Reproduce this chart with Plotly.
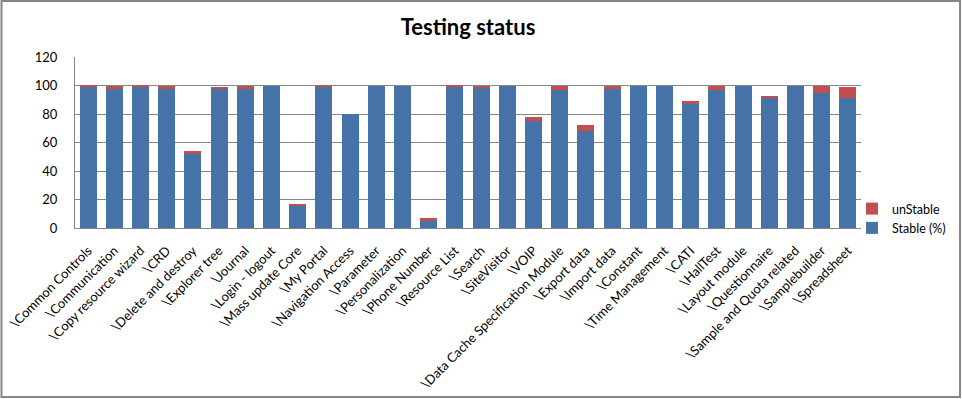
import plotly.graph_objects as go

categories = [
    "\\Common Controls", "\\Communication", "\\Copy resource wizard", "\\CRD",
    "\\Delete and destroy", "\\Explorer tree", "\\Journal", "\\Login - logout",
    "\\Mass update Core", "\\My Portal", "\\Navigation Access", "\\Parameter",
    "\\Personalization", "\\Phone Number", "\\Resource List", "\\Search",
    "\\SiteVisitor", "\\VOIP", "\\Data Cache Specification Module", "\\Export data",
    "\\Import data", "\\Constant", "\\Time Management", "\\CATI", "\\HallTest",
    "\\Layout module", "\\Questionnaire", "\\Sample and Quota related",
    "\\Samplebuilder", "\\Spreadsheet",
]
stable = [99, 97.5, 99.5, 97.5, 52, 97.5, 97.5, 100, 16, 99,
          80, 100, 100, 5, 99.5, 98.5, 100, 75, 97, 68,
          97.5, 100, 100, 87, 97, 100, 91.5, 100, 94.5, 91.5]
unstable = [1, 2.5, 0.5, 2.5, 2, 1.5, 2.5, 0, 0.5, 1,
            0, 0, 0, 2, 0.5, 0.5, 0, 3, 3, 4,
            2.5, 0, 0, 2, 3, 0, 1, 0, 5.5, 7.5]
y_ticks = [0, 20, 40, 60, 80, 100, 120]

W, H = 962, 399
ML, MR, MT, MB = 75, 101, 57, 171
pw, ph = W - ML - MR, H - MT - MB

fig = go.Figure()
fig.add_trace(go.Bar(x=categories, y=stable, name="Stable (%)",
                     marker=dict(color="#4572A7", line=dict(width=0)),
                     legendgroup="a"))
fig.add_trace(go.Bar(x=categories, y=unstable, name="unStable",
                     marker=dict(color="#C0504D", line=dict(width=0)),
                     legendgroup="b"))

def px2x(p):
    return (p - ML) / pw

def px2y(p):
    return (H - MB - p) / ph

fig.update_layout(
    width=W, height=H,
    margin=dict(l=ML, r=MR, t=MT, b=MB, pad=0, autoexpand=False),
    barmode="stack", bargap=0.35,
    plot_bgcolor="white", paper_bgcolor="white",
    font=dict(family="Lato, Calibri, sans-serif", size=13, color="black"),
    title=dict(text="<b>Testing status</b>", x=0.5, xref="paper", xanchor="center",
               y=1 - 27 / H, yanchor="middle",
               font=dict(family="Lato, Calibri, sans-serif", size=22, color="black")),
    legend=dict(x=px2x(852), y=px2y(194), xanchor="left", yanchor="top",
                font=dict(size=12.5), tracegroupgap=11, itemwidth=30,
                traceorder="reversed", bgcolor="rgba(0,0,0,0)"),
    xaxis=dict(tickangle=-45, showgrid=False, showline=True, linecolor="#868686",
               linewidth=1, ticks="", tickfont=dict(size=13), ticklabelstandoff=9,
               automargin=False),
    yaxis=dict(range=[0, 120], tickvals=y_ticks, showgrid=True, gridcolor="#868686",
               gridwidth=1, showline=True, linecolor="#868686", linewidth=1,
               ticks="", tickfont=dict(size=13), ticklabelstandoff=14, zeroline=False,
               automargin=False),
    shapes=[dict(type="rect", xref="paper", yref="paper",
                 x0=px2x(1.5), x1=px2x(960), y0=px2y(397), y1=px2y(1),
                 line=dict(color="#868686", width=2), fillcolor="rgba(0,0,0,0)",
                 layer="below")],
)

fig.write_html("out.html", config={"displayModeBar": False},
               post_script="document.body.style.margin='0';document.body.style.padding='0';")
